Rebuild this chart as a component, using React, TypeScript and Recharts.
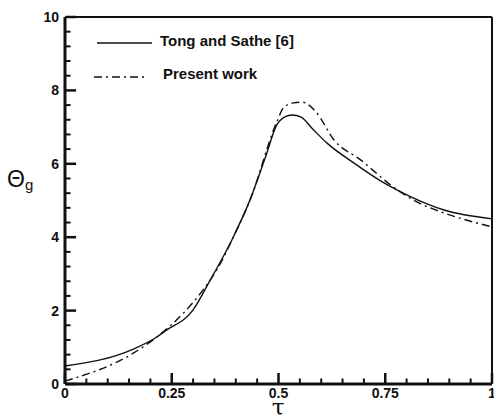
import { Line, LineChart, ReferenceLine, XAxis, YAxis } from "recharts";

// Gas temperature profiles across the optical thickness
const tongTau = [0, 0.16, 0.215, 0.234, 0.3, 0.34, 0.394, 0.433, 0.47, 0.496, 0.515, 0.532, 0.553, 0.58, 0.613, 0.677, 0.747, 0.81, 0.888, 1.0];
const tongTheta = [0.49, 0.95, 1.28, 1.44, 2.02, 2.83, 4.0, 5.01, 6.2, 7.06, 7.28, 7.33, 7.27, 6.95, 6.57, 6.02, 5.48, 5.1, 4.74, 4.5];

const presentTau = [0, 0.16, 0.215, 0.277, 0.323, 0.36, 0.394, 0.433, 0.496, 0.513, 0.535, 0.555, 0.588, 0.63, 0.693, 0.763, 0.824, 0.888, 1.0];
const presentTheta = [0.08, 0.84, 1.28, 1.93, 2.56, 3.2, 4.0, 5.0, 7.14, 7.55, 7.66, 7.68, 7.41, 6.65, 6.1, 5.42, 4.96, 4.66, 4.28];

const xTicks = [0, 0.05, 0.1, 0.15, 0.2, 0.25, 0.3, 0.35, 0.4, 0.45, 0.5, 0.55, 0.6, 0.65, 0.7, 0.75, 0.8, 0.85, 0.9, 0.95, 1];
const xMajor = [0, 0.25, 0.5, 0.75, 1];
const xLabels = ["0", "0.25", "0.5", "0.75", "1"];

const yTicks = [0, 0.4, 0.8, 1.2, 1.6, 2, 2.4, 2.8, 3.2, 3.6, 4, 4.4, 4.8, 5.2, 5.6, 6, 6.4, 6.8, 7.2, 7.6, 8, 8.4, 8.8, 9.2, 9.6, 10];
const yMajor = [0, 2, 4, 6, 8, 10];
const yLabels = ["0", "2", "4", "6", "8", "10"];

const tongData = tongTau.map((t, i) => ({ tau: t, theta: tongTheta[i] }));
const presentData = presentTau.map((t, i) => ({ tau: t, theta: presentTheta[i] }));

const INK = "#111";
const FONT = "'Liberation Sans', Arial, sans-serif";
const DASH_DOT = "8 4 2 4";

// inward tick lengths, in data units of the crossing axis
const X_TICK_MAJOR = 0.3;
const X_TICK_MINOR = 0.15;
const Y_TICK_MAJOR = 0.026;
const Y_TICK_MINOR = 0.013;

const isMajor = (list: number[], v: number) => list.some((m) => Math.abs(m - v) < 1e-6);

function renderXTick(props: any) {
  const idx = xMajor.findIndex((m) => Math.abs(m - props.payload.value) < 1e-6);
  if (idx < 0) return <g key={`xt-${props.index}`} />;
  return (
    <text key={`xt-${props.index}`} x={props.x} y={Number(props.y) + 14} textAnchor="middle" fontFamily={FONT} fontWeight="bold" fontSize={14} fill={INK}>
      {xLabels[idx]}
    </text>
  );
}

function renderYTick(props: any) {
  const idx = yMajor.findIndex((m) => Math.abs(m - props.payload.value) < 1e-6);
  if (idx < 0) return <g key={`yt-${props.index}`} />;
  return (
    <text key={`yt-${props.index}`} x={Number(props.x) - 6} y={Number(props.y) + 5} textAnchor="end" fontFamily={FONT} fontWeight="bold" fontSize={14} fill={INK}>
      {yLabels[idx]}
    </text>
  );
}

function LegendBox() {
  return (
    <svg width={340} height={90} style={{ position: "absolute", left: 0, top: 0 }}>
      <line x1={97} x2={152} y1={43} y2={43} stroke={INK} strokeWidth={1.3} />
      <text x={160} y={46} fontFamily={FONT} fontWeight="bold" fontSize={15} fill={INK}>
        Tong and Sathe [6]
      </text>
      <line x1={94} x2={145} y1={77} y2={77} stroke={INK} strokeWidth={1.3} strokeDasharray={DASH_DOT} />
      <text x={163} y={79} fontFamily={FONT} fontWeight="bold" fontSize={15} fill={INK}>
        Present work
      </text>
    </svg>
  );
}

export default function App() {
  return (
    <div style={{ position: "absolute", left: 0, top: 0, width: 494, height: 420, background: "#fff" }}>
      <LineChart width={494} height={420} margin={{ top: 17, right: 2, left: 0, bottom: 0 }}>
        <XAxis
          type="number"
          dataKey="tau"
          domain={[0, 1]}
          ticks={xTicks}
          interval={0}
          height={36}
          tickSize={0}
          tickMargin={0}
          tickLine={false}
          tick={renderXTick}
          axisLine={{ stroke: INK, strokeWidth: 3 }}
          label={{
            content: () => (
              <text x={278} y={415} textAnchor="middle" fontFamily="'DejaVu Serif', serif" fontSize={23} fill={INK}>
                τ
              </text>
            ),
          }}
        />
        <YAxis
          type="number"
          domain={[0, 10]}
          ticks={yTicks}
          interval={0}
          width={65}
          tickSize={0}
          tickMargin={0}
          tickLine={false}
          tick={renderYTick}
          axisLine={{ stroke: INK, strokeWidth: 3 }}
          label={{
            content: () => (
              <text x={7} y={187} fontFamily={FONT} fontSize={23} fill={INK}>
                Θ
                <tspan fontSize={15} dy={3}>g</tspan>
              </text>
            ),
          }}
        />
        {xTicks.map((t) => (
          <ReferenceLine
            key={`xm-${t}`}
            segment={[{ x: t, y: 0.01 }, { x: t, y: isMajor(xMajor, t) ? X_TICK_MAJOR : X_TICK_MINOR }]}
            stroke={INK}
            strokeWidth={isMajor(xMajor, t) ? 2.5 : 2}
          />
        ))}
        {yTicks.map((t) => (
          <ReferenceLine
            key={`ym-${t}`}
            segment={[{ x: 0.001, y: t }, { x: isMajor(yMajor, t) ? Y_TICK_MAJOR : Y_TICK_MINOR, y: t }]}
            stroke={INK}
            strokeWidth={isMajor(yMajor, t) ? 2.5 : 2}
          />
        ))}
        <ReferenceLine y={10} stroke={INK} strokeWidth={2} />
        <ReferenceLine x={1} stroke={INK} strokeWidth={2} />
        <Line
          data={tongData}
          dataKey="theta"
          type="monotone"
          stroke={INK}
          strokeWidth={1.4}
          dot={false}
          isAnimationActive={false}
        />
        <Line
          data={presentData}
          dataKey="theta"
          type="monotone"
          stroke={INK}
          strokeWidth={1.4}
          strokeDasharray={DASH_DOT}
          dot={false}
          isAnimationActive={false}
        />
      </LineChart>
      <LegendBox />
    </div>
  );
}
